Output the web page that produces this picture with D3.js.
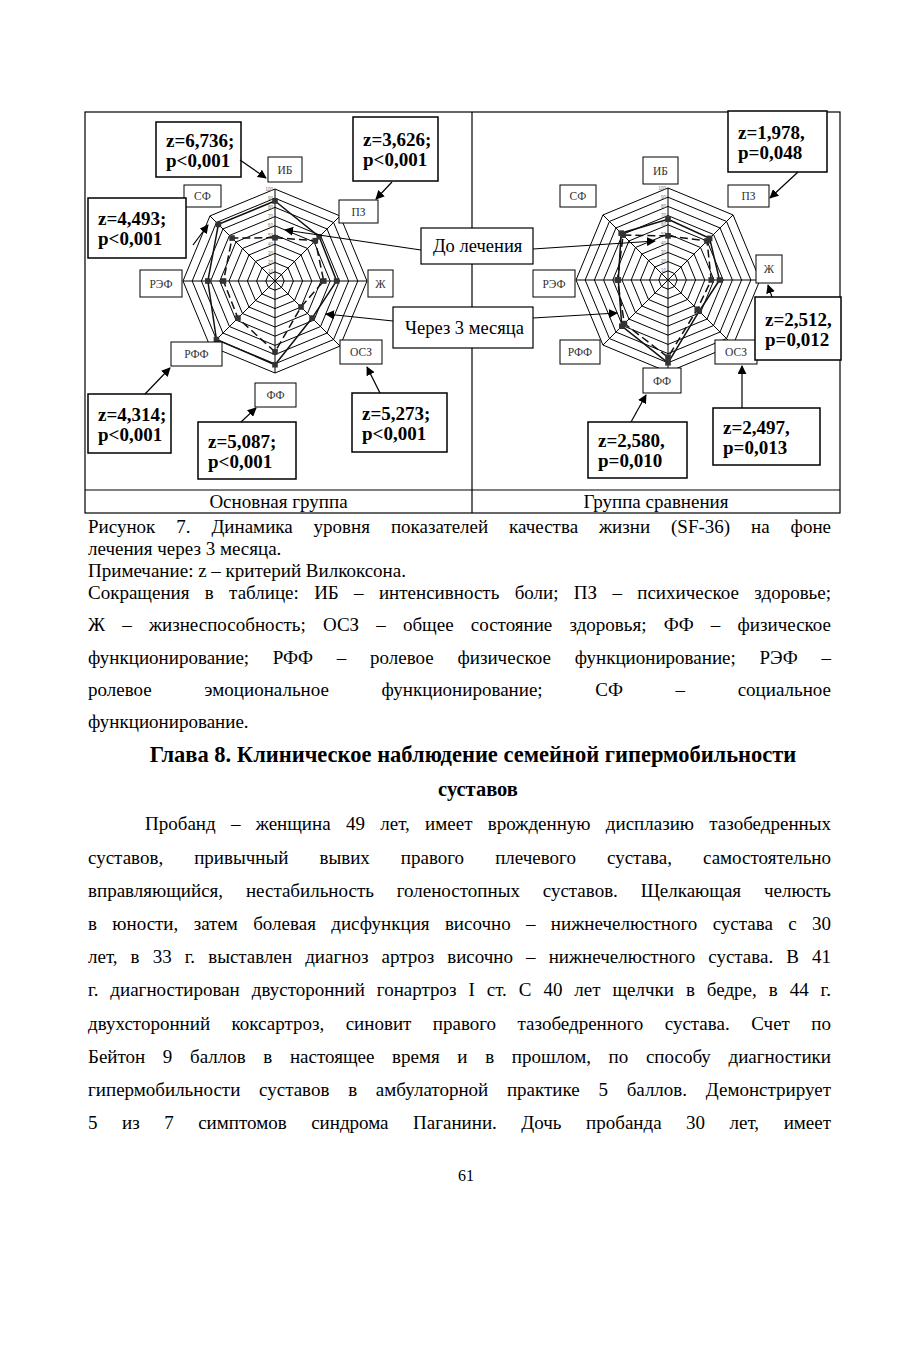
<!DOCTYPE html>
<html><head><meta charset="utf-8">
<script src="https://cdn.jsdelivr.net/npm/d3@7"></script>
<style>
html,body{margin:0;padding:0;background:#fff;}
svg{display:block;}
</style></head>
<body>
<svg id="page" width="919" height="1350"></svg>
<script>
// ---------------- DATA ----------------
const axes = ["ИБ","ПЗ","Ж","ОСЗ","ФФ","РФФ","РЭФ","СФ"];
const ringTicks = [10,20,30,40,50,60,70,80,90,100];
const mainBefore = [47,62,53,40,77,57,56,66];   // До лечения (dashed)
const mainAfter  = [87,68,67,57,91,90,73,87];   // Через 3 месяца (solid)
const compBefore = [48,60,47,45,84,67,55,69];
const compAfter  = [66,64,56,48,90,71,54,72];
const groupNames = ["Основная группа","Группа сравнения"];
const seriesNames = ["До лечения","Через 3 месяца"];
const mainStats = [["z=6,736;","p<0,001"],["z=3,626;","p<0,001"],["z=4,493;","p<0,001"],["z=4,314;","p<0,001"],["z=5,087;","p<0,001"],["z=5,273;","p<0,001"]];
const compStats = [["z=1,978,","p=0,048"],["z=2,512,","p=0,012"],["z=2,497,","p=0,013"],["z=2,580,","p=0,010"]];

const captionLines = [
 {t:"Рисунок 7. Динамика уровня показателей качества жизни (SF-36) на фоне", j:true},
 {t:"лечения через 3 месяца.", j:false},
 {t:"Примечание: z – критерий Вилкоксона.", j:false},
 {t:"Сокращения в таблице: ИБ – интенсивность боли; ПЗ – психическое здоровье;", j:true},
 {t:"Ж – жизнеспособность; ОСЗ – общее состояние здоровья; ФФ – физическое", j:true},
 {t:"функционирование; РФФ – ролевое физическое функционирование; РЭФ –", j:true},
 {t:"ролевое эмоциональное функционирование; СФ – социальное", j:true},
 {t:"функционирование.", j:false}
];
const headingLines = ["Глава 8. Клиническое наблюдение семейной гипермобильности","суставов"];
const bodyLines = [
 "Пробанд – женщина 49 лет, имеет врожденную дисплазию тазобедренных",
 "суставов, привычный вывих правого плечевого сустава, самостоятельно",
 "вправляющийся, нестабильность голеностопных суставов. Щелкающая челюсть",
 "в юности, затем болевая дисфункция височно – нижнечелюстного сустава с 30",
 "лет, в 33 г. выставлен диагноз артроз височно – нижнечелюстного сустава. В 41",
 "г. диагностирован двусторонний гонартроз I ст. С 40 лет щелчки в бедре, в 44 г.",
 "двухсторонний коксартроз, синовит правого тазобедренного сустава. Счет по",
 "Бейтон 9 баллов в настоящее время и в прошлом, по способу диагностики",
 "гипермобильности суставов в амбулаторной практике 5 баллов. Демонстрирует",
 "5 из 7 симптомов синдрома Паганини. Дочь пробанда 30 лет, имеет"
];
const pageNumber = "61";

// ---------------- LAYOUT ----------------
const SERIF = "'Liberation Serif','Times New Roman',serif";
const svg = d3.select("#page");
svg.append("rect").attr("width",919).attr("height",1350).attr("fill","#fff");

const frame = {x0:85, x1:840, y0:112, y1:513, mid:472, row:490};
const charts = [
 {cx:275, cy:281, R:92, before:mainBefore, after:mainAfter,
  labels:[[268,157,34,25],[339,200,39,23],[368,270,25,27],[340,340,42,24],[255,383,41,24],[171,342,51,24],[140,270,42,27],[184,185,37,22]],
  stats:mainStats,
  statBoxes:[[156,122,85,55],[353,117,85,64],[88,198,98,60],[88,394,83,59],[198,422,98,57],[352,393,95,59]],
  arrows:[[240,160,266,178],[392,182,376,199],[193,245,208,225],[145,394,170,368],[241,422,256,408],[380,393,367,367]]},
 {cx:668, cy:280, R:92, before:compBefore, after:compAfter,
  labels:[[643,157,35,27],[728,185,41,22],[756,255,26,28],[715,340,42,24],[643,368,38,25],[560,340,40,24],[533,270,42,27],[560,185,36,22]],
  stats:compStats,
  statBoxes:[[728,111,99,61],[755,297,86,63],[713,408,107,57],[588,422,99,56]],
  arrows:[[798,172,770,198],[772,297,768,285],[742,408,742,366],[631,422,646,395]]}
];

// arrow marker
const defs = svg.append("defs");
defs.append("marker").attr("id","ah").attr("viewBox","0 0 10 10").attr("refX",9).attr("refY",5)
 .attr("markerWidth",9).attr("markerHeight",9).attr("markerUnits","userSpaceOnUse").attr("orient","auto")
 .append("path").attr("d","M0,0 L10,5 L0,10 z").attr("fill","#000");

// frame
const fg = svg.append("g").attr("fill","none").attr("stroke","#000").attr("stroke-width",1.2);
fg.append("rect").attr("x",frame.x0).attr("y",frame.y0).attr("width",frame.x1-frame.x0).attr("height",frame.y1-frame.y0);
fg.append("line").attr("x1",frame.mid).attr("x2",frame.mid).attr("y1",frame.y0).attr("y2",frame.y1);
fg.append("line").attr("x1",frame.x0).attr("x2",frame.x1).attr("y1",frame.row).attr("y2",frame.row);
groupNames.forEach((n,i)=>{
  svg.append("text").attr("x", i===0 ? (frame.x0+frame.mid)/2 : (frame.mid+frame.x1)/2).attr("y",508)
   .attr("text-anchor","middle").attr("font-family",SERIF).attr("font-size",19).text(n);
});

// radar charts
const angle = d3.scaleLinear().domain([0,axes.length]).range([0,2*Math.PI]);
charts.forEach(c=>{
  const r = d3.scaleLinear().domain([0,100]).range([0,c.R]);
  const pt = (i,v)=>[c.cx + r(v)*Math.sin(angle(i)), c.cy - r(v)*Math.cos(angle(i))];
  const g = svg.append("g");
  g.selectAll("path.ring").data(ringTicks).join("path")
   .attr("d",t=>d3.line()(axes.map((a,i)=>pt(i,t)))+"Z")
   .attr("fill","none").attr("stroke","#000").attr("stroke-width",1);
  g.selectAll("line.spoke").data(axes).join("line")
   .attr("x1",c.cx).attr("y1",c.cy).attr("x2",(d,i)=>pt(i,100)[0]).attr("y2",(d,i)=>pt(i,100)[1])
   .attr("stroke","#000").attr("stroke-width",1);
  g.selectAll("text.tick").data(ringTicks).join("text")
   .attr("x",c.cx-2).attr("y",t=>c.cy-r(t)+1.5).attr("text-anchor","end")
   .attr("font-family","'Liberation Sans',Arial,sans-serif").attr("font-size",4.5).attr("fill","#777").text(t=>t);
  const line = d3.line().curve(d3.curveLinearClosed);
  g.append("path").attr("d",line(c.before.map((v,i)=>pt(i,v))))
   .attr("fill","none").attr("stroke","#111").attr("stroke-width",1.5).attr("stroke-dasharray","8,4");
  g.append("path").attr("d",line(c.after.map((v,i)=>pt(i,v))))
   .attr("fill","none").attr("stroke","#111").attr("stroke-width",1.5);
  [c.before,c.after].forEach(s=>{
    g.selectAll(null).data(s).join("rect")
     .attr("x",(v,i)=>pt(i,v)[0]-2.8).attr("y",(v,i)=>pt(i,v)[1]-2.8).attr("width",5.6).attr("height",5.6)
     .attr("fill","#333");
  });
  axes.forEach((a,i)=>{
    const b=c.labels[i];
    g.append("rect").attr("x",b[0]).attr("y",b[1]).attr("width",b[2]).attr("height",b[3])
     .attr("fill","#fff").attr("stroke","#000").attr("stroke-width",1);
    g.append("text").attr("x",b[0]+b[2]/2).attr("y",b[1]+b[3]/2+4).attr("text-anchor","middle")
     .attr("font-family",SERIF).attr("font-size",11.5).attr("fill","#333").text(a);
  });
  c.stats.forEach((s,i)=>{
    const b=c.statBoxes[i];
    g.append("rect").attr("x",b[0]).attr("y",b[1]).attr("width",b[2]).attr("height",b[3])
     .attr("fill","#fff").attr("stroke","#000").attr("stroke-width",1.5);
    const t=g.append("text").attr("font-family",SERIF).attr("font-size",19).attr("font-weight","bold");
    t.append("tspan").attr("x",b[0]+10).attr("y",b[1]+b[3]/2-3).text(s[0]);
    t.append("tspan").attr("x",b[0]+10).attr("y",b[1]+b[3]/2+17).text(s[1]);
    const a=c.arrows[i];
    g.append("line").attr("x1",a[0]).attr("y1",a[1]).attr("x2",a[2]).attr("y2",a[3])
     .attr("stroke","#000").attr("stroke-width",1.2).attr("marker-end","url(#ah)");
  });
});

// series legend boxes with arrows
const legendBoxes = [[421,228,112,36],[393,307,140,41]];
const legendArrows = [[[421,250,285,230],[533,249,655,241]],[[393,321,326,314],[533,318,617,313]]];
seriesNames.forEach((n,i)=>{
  legendArrows[i].forEach(a=>{
    svg.append("line").attr("x1",a[0]).attr("y1",a[1]).attr("x2",a[2]).attr("y2",a[3])
     .attr("stroke","#000").attr("stroke-width",1.1).attr("marker-end","url(#ah)");
  });
  const b=legendBoxes[i];
  svg.append("rect").attr("x",b[0]).attr("y",b[1]).attr("width",b[2]).attr("height",b[3])
   .attr("fill","#fff").attr("stroke","#000").attr("stroke-width",1.2);
  svg.append("text").attr("x",b[0]+12).attr("y",b[1]+b[3]/2+6)
   .attr("font-family",SERIF).attr("font-size",18.5).text(n);
});

// ---------------- TEXT ----------------
function justifyLine(str, x0, x1, y, opts={}){
  const words = str.split(" ");
  const g = svg.append("g").attr("font-family",SERIF).attr("font-size",opts.size||19)
    .attr("font-weight",opts.bold?"bold":"normal").attr("fill","#000");
  const els = words.map(w=>g.append("text").attr("y",y).text(w));
  const widths = els.map(e=>e.node().getComputedTextLength());
  const total = d3.sum(widths);
  const gap = words.length>1 ? (x1-x0-total)/(words.length-1) : 0;
  let x=x0;
  els.forEach((e,i)=>{ e.attr("x",x); x+=widths[i]+gap; });
}
function plainLine(str,x,y,opts={}){
  svg.append("text").attr("x",x).attr("y",y).attr("font-family",SERIF).attr("font-size",opts.size||19)
   .attr("font-weight",opts.bold?"bold":"normal").attr("text-anchor",opts.anchor||"start").text(str);
}
const L=88, Rt=831;
const capY=[533,555,577,599,631,664,696,728];
captionLines.forEach((l,i)=>{ if(l.j) justifyLine(l.t,L,Rt,capY[i]); else plainLine(l.t,L,capY[i]); });
plainLine(headingLines[0],473,762,{bold:true,anchor:"middle",size:22.5});
plainLine(headingLines[1],478,796,{bold:true,anchor:"middle",size:20.5});
const bodyY=[830,864,897,930,963,996,1030,1063,1096,1129];
bodyLines.forEach((l,i)=>justifyLine(l, i===0?145:L, Rt, bodyY[i]));
plainLine(pageNumber,466,1181,{anchor:"middle",size:16});
</script>
</body></html>
